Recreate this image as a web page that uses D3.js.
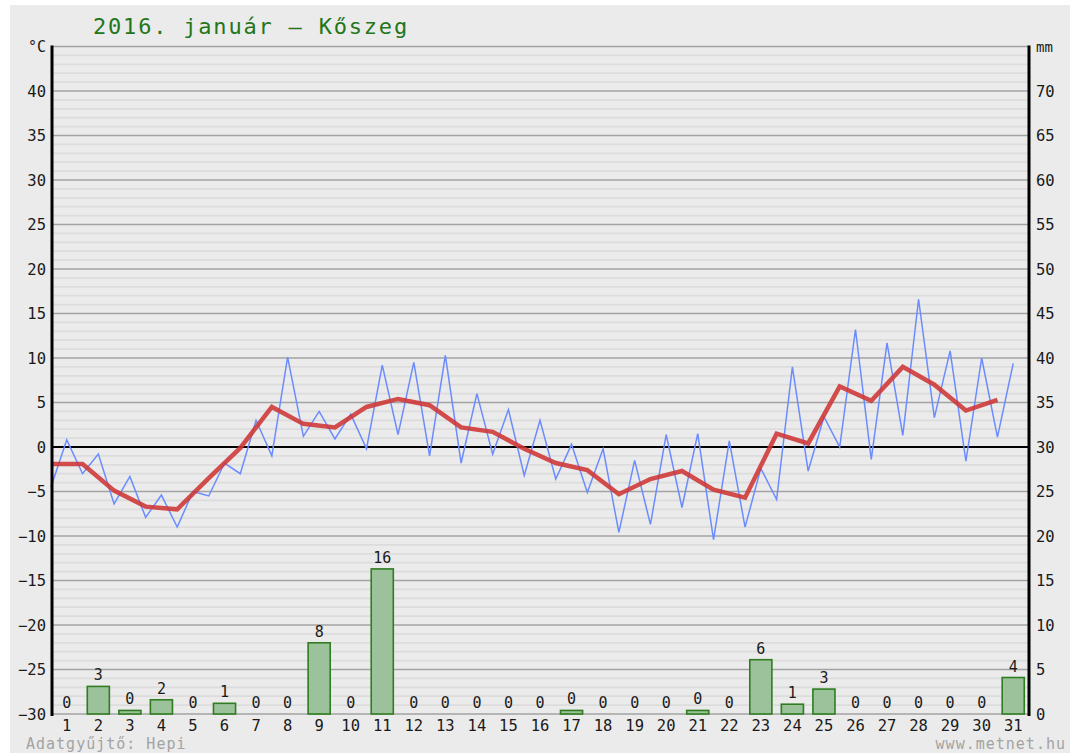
<!DOCTYPE html>
<html>
<head>
<meta charset="utf-8">
<script src="https://cdn.jsdelivr.net/npm/d3@7"></script>
<style>
  html, body { margin: 0; padding: 0; background: #fff; }
  svg { display: block; }
  text { font-family: "DejaVu Sans Mono", monospace; }
</style>
</head>
<body>
<svg id="chart" width="1079" height="755"></svg>
<script>
// Daily weather, Kőszeg, January 2016
const days = d3.range(1, 32);

// Daily minimum temperature (°C), plotted at the start of each day
const tMin = [-4.5, -3.0, -6.4, -7.9, -9.0, -5.5, -3.0, -1.0, 1.2, 0.9,
              -0.2, 1.4, -1.0, -1.8, -0.8, -3.2, -3.6, -5.1, -9.6, -8.7,
              -6.8, -10.4, -9.0, -5.9, -2.7, 0.0, -1.4, 1.3, 3.3, -1.6, 1.1];

// Daily maximum temperature (°C), plotted at midday
const tMax = [0.8, -0.8, -3.3, -5.4, -5.0, -1.8, 3.0, 10.1, 4.0, 3.7,
              9.2, 9.5, 10.3, 6.0, 4.2, 3.0, 0.3, -0.2, -1.5, 1.4,
              1.5, 0.7, -2.4, 9.0, 3.4, 13.2, 11.7, 16.6, 10.8, 10.0, 9.4];

// Daily mean temperature (°C)
const tAvg = [-1.9, -1.9, -4.9, -6.7, -7.0, -3.5, -0.1, 4.5, 2.6, 2.2,
              4.5, 5.4, 4.7, 2.2, 1.7, -0.2, -1.8, -2.6, -5.3, -3.6,
              -2.7, -4.8, -5.7, 1.5, 0.4, 6.8, 5.2, 9.0, 7.0, 4.1, 5.3];

// Daily precipitation (mm)
const precip = [0, 3.1, 0.4, 1.6, 0, 1.2, 0, 0, 8.0, 0,
                16.3, 0, 0, 0, 0, 0, 0.4, 0, 0, 0,
                0.4, 0, 6.1, 1.1, 2.8, 0, 0, 0, 0, 0, 4.1];

const tempTicks = d3.range(-30, 41, 5);
const mmTicks = d3.range(0, 71, 5);

const svg = d3.select("#chart");
const L = 51, R = 1029, T = 46.5, B = 714;

// Panel background
svg.append("rect").attr("x", 10).attr("y", 5).attr("width", 1060).attr("height", 748)
  .attr("fill", "#ebebeb");

// Scales
const y = d3.scaleLinear().domain([-30, 45]).range([B, T]);
const yMm = d3.scaleLinear().domain([0, 75]).range([B, T]);
const xt = d3.scaleLinear().domain([0, 31]).range([L, R]);
const xb = d3.scaleBand().domain(days).range([L, R]).paddingInner(0.3).paddingOuter(0.15);

// Grid: minor every 1 °C, major every 5 °C
const g = svg.append("g");
g.selectAll("line.minor").data(d3.range(-30, 46, 1).filter(v => v % 5 !== 0))
  .join("line").attr("class", "minor")
  .attr("x1", L).attr("x2", R)
  .attr("y1", d => y(d)).attr("y2", d => y(d))
  .attr("stroke", "#dcdcdc").attr("stroke-width", 1.8);
g.selectAll("line.major").data(d3.range(-30, 46, 5))
  .join("line").attr("class", "major")
  .attr("x1", L).attr("x2", R)
  .attr("y1", d => y(d)).attr("y2", d => y(d))
  .attr("stroke", d => d === 0 ? "#000" : "#a3a3a3")
  .attr("stroke-width", d => d === 0 ? 2 : 1.6);

// Precipitation bars
svg.append("g").selectAll("rect").data(days)
  .join("rect")
  .attr("x", d => xb(d))
  .attr("width", xb.bandwidth())
  .attr("y", d => yMm(precip[d - 1]))
  .attr("height", d => B - yMm(precip[d - 1]))
  .attr("fill", "#9cc29c")
  .attr("stroke", "#2f7d20")
  .attr("stroke-width", 1.6);

// Precipitation value labels
svg.append("g").selectAll("text").data(days)
  .join("text")
  .attr("x", d => xb(d) + xb.bandwidth() / 2)
  .attr("y", d => yMm(precip[d - 1]) - 6)
  .attr("text-anchor", "middle")
  .attr("font-size", 15)
  .attr("fill", "#1a1a1a")
  .text(d => Math.round(precip[d - 1]));

// Min/max temperature zigzag
const zig = [];
days.forEach((d, i) => {
  zig.push([xt(d - 1), tMin[i]]);
  zig.push([xt(d - 0.5), tMax[i]]);
});
svg.append("path")
  .attr("d", d3.line().x(p => p[0]).y(p => y(p[1]))(zig))
  .attr("fill", "none")
  .attr("stroke", "#6b8cff")
  .attr("stroke-width", 1.5);

// Daily mean temperature
svg.append("path")
  .attr("d", d3.line().x((v, i) => xt(i)).y(v => y(v))(tAvg))
  .attr("fill", "none")
  .attr("stroke", "#cf3535")
  .attr("stroke-opacity", 0.88)
  .attr("stroke-width", 4.5);

// Axes lines
svg.append("line").attr("x1", L + 1).attr("x2", L + 1).attr("y1", T - 1).attr("y2", B + 2)
  .attr("stroke", "#000").attr("stroke-width", 3);
svg.append("line").attr("x1", R).attr("x2", R).attr("y1", T - 1).attr("y2", B + 2)
  .attr("stroke", "#000").attr("stroke-width", 3);

// Left temperature labels
svg.append("g").selectAll("text").data(tempTicks)
  .join("text")
  .attr("x", 46).attr("y", d => y(d) + 5.5)
  .attr("text-anchor", "end")
  .attr("font-size", 15.5)
  .attr("fill", "#1a1a1a")
  .text(d => d < 0 ? "\u2212" + Math.abs(d) : d);
svg.append("text").attr("x", 46).attr("y", T + 5).attr("text-anchor", "end")
  .attr("font-size", 15).attr("fill", "#1a1a1a").text("°C");

// Right precipitation labels
svg.append("g").selectAll("text").data(mmTicks)
  .join("text")
  .attr("x", 1036).attr("y", d => yMm(d) + 5.5)
  .attr("font-size", 15.5)
  .attr("fill", "#1a1a1a")
  .text(d => d);
svg.append("text").attr("x", 1036).attr("y", T + 5)
  .attr("font-size", 14).attr("fill", "#1a1a1a").text("mm");

// Day labels
svg.append("g").selectAll("text").data(days)
  .join("text")
  .attr("x", d => xb(d) + xb.bandwidth() / 2)
  .attr("y", 731)
  .attr("text-anchor", "middle")
  .attr("font-size", 15.5)
  .attr("fill", "#1a1a1a")
  .text(d => d);

// Title
svg.append("text").attr("x", 93).attr("y", 34)
  .attr("font-size", 22).attr("letter-spacing", 1.8)
  .attr("fill", "#23761a")
  .text("2016. január – Kőszeg");

// Footer credits
svg.append("text").attr("x", 26).attr("y", 749)
  .attr("font-size", 15).attr("letter-spacing", 1)
  .attr("fill", "#a3a3a3")
  .text("Adatgyűjtő: Hepi");
svg.append("text").attr("x", 1066).attr("y", 749)
  .attr("text-anchor", "end")
  .attr("font-size", 15).attr("letter-spacing", 1)
  .attr("fill", "#a3a3a3")
  .text("www.metnet.hu");
</script>
</body>
</html>
